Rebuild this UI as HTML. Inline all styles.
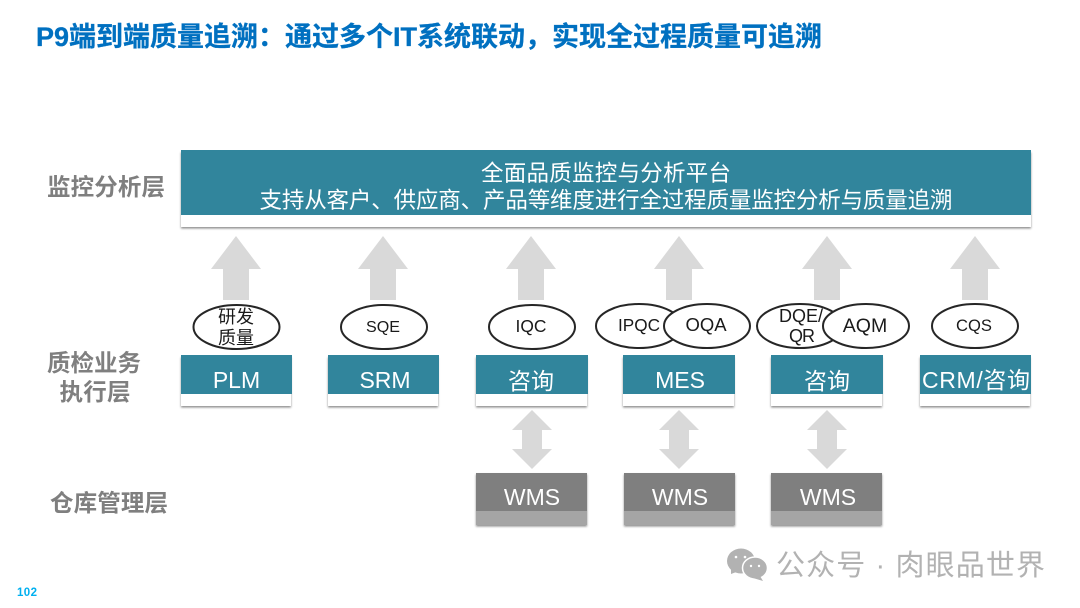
<!DOCTYPE html>
<html lang="zh"><head><meta charset="utf-8"><title>P9端到端质量追溯</title>
<style>
html,body{margin:0;padding:0;background:#fff;width:1080px;height:608px;overflow:hidden}
svg{display:block}
text{font-family:"Liberation Sans","Noto Sans CJK SC",sans-serif}
.lab{font-size:23.5px;font-weight:700;fill:#7f7f7f;text-anchor:middle}
.w{fill:#fff;text-anchor:middle;font-size:23px}
.o{fill:#1a1a1a;text-anchor:middle;font-size:18px}
.e{fill:#fff;stroke:#262626;stroke-width:2}
.t{fill:#31859c}
.s{fill:#fff;filter:url(#sh)}
.ar{fill:#d9d9d9}
</style></head><body>
<svg width="1080" height="608" viewBox="0 0 1080 608" xmlns="http://www.w3.org/2000/svg">
<defs>
<filter id="sh" x="-5%" y="-5%" width="110%" height="115%"><feDropShadow dx="0" dy="1.5" stdDeviation="1" flood-color="#000" flood-opacity=".45"/></filter>
<polygon id="up" class="ar" points="25,0 50,33 38,33 38,64 12,64 12,33 0,33"/>
<polygon id="dbl" class="ar" points="20,0 40,20 30,20 30,39 40,39 20,59 0,39 10,39 10,20 0,20"/>
</defs>

<text x="36" y="46" font-size="27" font-weight="700" fill="#0070c0" stroke="#0070c0" stroke-width=".3" textLength="786" lengthAdjust="spacing">P9端到端质量追溯：通过多个IT系统联动，实现全过程质量可追溯</text>

<text class="lab" x="106" y="195" textLength="118">监控分析层</text>
<text class="lab" x="94" y="371" textLength="94">质检业务</text>
<text class="lab" x="95" y="400" textLength="71">执行层</text>
<text class="lab" x="109" y="511" textLength="118">仓库管理层</text>

<rect class="s" x="181" y="151" width="850" height="76"/>
<rect class="t" x="181" y="150" width="850" height="65"/>
<text class="w" x="606" y="181" style="font-size:22.5px" textLength="250">全面品质监控与分析平台</text>
<text class="w" x="606" y="208" style="font-size:22.5px" textLength="693">支持从客户、供应商、产品等维度进行全过程质量监控分析与质量追溯</text>

<use href="#up" x="211" y="236"/><use href="#up" x="358" y="236"/><use href="#up" x="506" y="236"/><use href="#up" x="654" y="236"/><use href="#up" x="802" y="236"/><use href="#up" x="950" y="236"/>

<ellipse class="e" cx="236.500" cy="327" rx="43" ry="22"/>
<text class="o" x="236" y="323">研发</text><text class="o" x="236" y="344">质量</text>
<ellipse class="e" cx="384" cy="327" rx="43" ry="22"/><text class="o" x="383" y="332" style="font-size:16.100px">SQE</text>
<ellipse class="e" cx="532" cy="327" rx="43" ry="22"/><text class="o" x="531" y="332" style="font-size:17.400px">IQC</text>
<ellipse class="e" cx="639" cy="326" rx="43" ry="22"/><text class="o" x="639" y="331" style="font-size:17.200px">IPQC</text>
<ellipse class="e" cx="707" cy="326" rx="43" ry="22"/><text class="o" x="706" y="331" style="font-size:18.500px">OQA</text>
<ellipse class="e" cx="800" cy="326" rx="43" ry="22"/><text class="o" x="801" y="322" textLength="44">DQE/</text><text class="o" x="802" y="342" textLength="26">QR</text>
<ellipse class="e" cx="866" cy="326" rx="43" ry="22"/><text class="o" x="865" y="332" style="font-size:19.500px">AQM</text>
<ellipse class="e" cx="975" cy="326" rx="43" ry="22"/><text class="o" x="974" y="331" style="font-size:16.600px">CQS</text>

<rect class="s" x="181" y="356" width="110" height="50"/><rect class="t" x="181" y="355" width="111" height="39"/><text class="w" x="236.500" y="388">PLM</text>
<rect class="s" x="328" y="356" width="110" height="50"/><rect class="t" x="328" y="355" width="111" height="39"/><text class="w" x="385" y="388">SRM</text>
<rect class="s" x="476" y="356" width="111" height="50"/><rect class="t" x="476" y="355" width="112" height="39"/><text class="w" x="531" y="389">咨询</text>
<rect class="s" x="623" y="356" width="111" height="50"/><rect class="t" x="623" y="355" width="112" height="39"/><text class="w" x="680" y="388">MES</text>
<rect class="s" x="771" y="356" width="111" height="50"/><rect class="t" x="771" y="355" width="112" height="39"/><text class="w" x="827" y="389">咨询</text>
<rect class="s" x="920" y="356" width="110" height="50"/><rect class="t" x="920" y="355" width="111" height="39"/><text class="w" x="976" y="388" textLength="108">CRM/咨询</text>

<use href="#dbl" x="512" y="410"/><use href="#dbl" x="659" y="410"/><use href="#dbl" x="807" y="410"/>

<rect x="476" y="473" width="111" height="52" fill="#a5a5a5" filter="url(#sh)"/><rect x="476" y="473" width="111" height="38" fill="#7f7f7f"/><text class="w" x="532" y="505">WMS</text>
<rect x="624" y="473" width="111" height="52" fill="#a5a5a5" filter="url(#sh)"/><rect x="624" y="473" width="111" height="38" fill="#7f7f7f"/><text class="w" x="680" y="505">WMS</text>
<rect x="771" y="473" width="111" height="52" fill="#a5a5a5" filter="url(#sh)"/><rect x="771" y="473" width="111" height="38" fill="#7f7f7f"/><text class="w" x="828" y="505">WMS</text>

<g fill="#b2b2b2">
<ellipse cx="741" cy="561" rx="14" ry="12.500"/><polygon points="731,568 731,574 739,571"/>
<ellipse cx="755" cy="568" rx="12.500" ry="11" stroke="#fff" stroke-width="1.500"/><polygon points="760,576 763,581 753,578"/>
<g fill="#fff"><circle cx="736" cy="557" r="1.300"/><circle cx="745" cy="557" r="1.300"/><circle cx="751" cy="566" r="1.200"/><circle cx="759" cy="566" r="1.200"/></g>
</g>
<text x="776" y="575" style="font-size:29px" fill="#b2b2b2" textLength="269">公众号 · 肉眼品世界</text>

<text x="17" y="596" font-size="11.500" font-weight="700" fill="#00b0f0" textLength="20">102</text>
</svg>
</body></html>
